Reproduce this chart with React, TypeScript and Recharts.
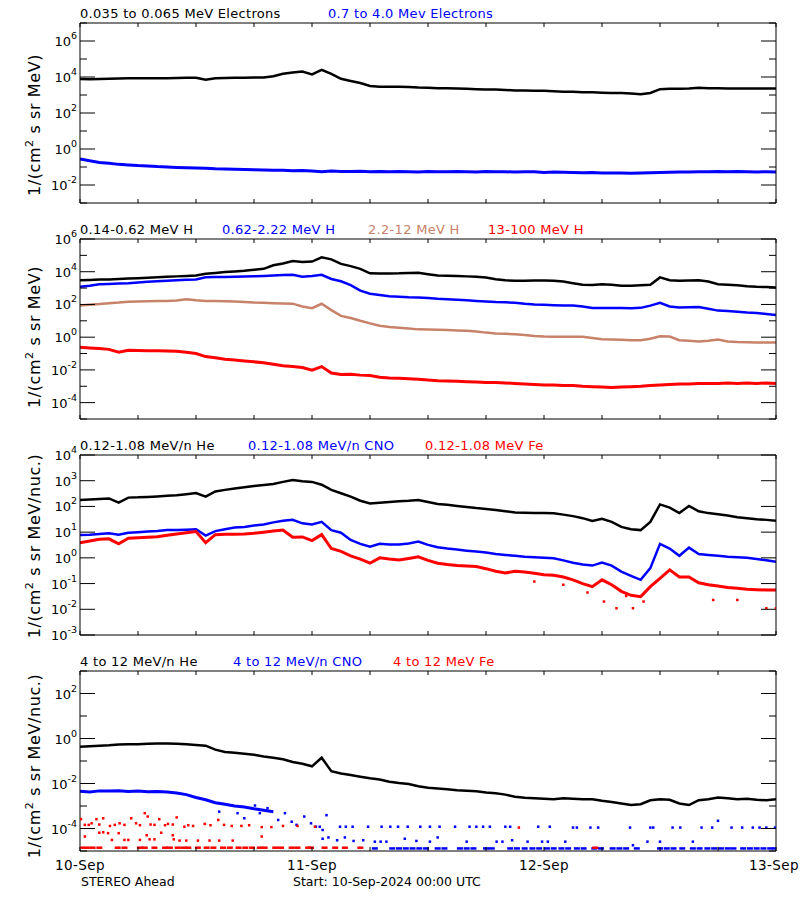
import React from 'react';
import { ComposedChart, Line, Scatter, XAxis, YAxis } from 'recharts';

// time axis: hours since 10-Sep-2024 00:00 UTC
const HOURS = Array.from({ length: 73 }, (_, i) => i);
const X_TICKS = [0, 6, 12, 18, 24, 30, 36, 42, 48, 54, 60, 66, 72];
const DATE_LABELS: Record<number, string> = { 0: '10-Sep', 24: '11-Sep', 48: '12-Sep', 72: '13-Sep' };

// panel 1 - electrons
const ELEC_LO = [
  7.8e3, 7.5e3, 7.8e3, 8e3, 8.2e3, 8.5e3, 8.5e3, 8.6e3, 8.5e3, 8.6e3,
  8.8e3, 9e3, 9e3, 7e3, 8.5e3, 8.8e3, 9e3, 9.2e3, 9.3e3, 9.5e3,
  1.1e4, 1.5e4, 1.8e4, 2.0e4, 1.4e4, 2.5e4, 1.5e4, 8e3, 6e3, 4.6e3,
  3.2e3, 2.9e3, 2.9e3, 2.9e3, 2.8e3, 2.6e3, 2.5e3, 2.4e3, 2.4e3, 2.3e3,
  2.2e3, 2.1e3, 2e3, 2e3, 1.9e3, 1.8e3, 1.8e3, 1.7e3, 1.7e3, 1.6e3,
  1.5e3, 1.5e3, 1.4e3, 1.4e3, 1.35e3, 1.3e3, 1.3e3, 1.2e3, 1.1e3, 1.3e3,
  2.1e3, 2.2e3, 2.2e3, 2.3e3, 2.5e3, 2.4e3, 2.4e3, 2.3e3, 2.3e3, 2.3e3,
  2.3e3, 2.3e3, 2.3e3,
];
const ELEC_HI = [
  0.28, 0.22, 0.18, 0.16, 0.14, 0.13, 0.12, 0.115, 0.105, 0.1,
  0.095, 0.092, 0.088, 0.085, 0.08, 0.078, 0.076, 0.072, 0.07, 0.068,
  0.066, 0.065, 0.062, 0.064, 0.06, 0.055, 0.06, 0.057, 0.056, 0.058,
  0.055, 0.057, 0.054, 0.056, 0.055, 0.053, 0.056, 0.055, 0.054, 0.057,
  0.055, 0.053, 0.056, 0.054, 0.055, 0.052, 0.055, 0.054, 0.05, 0.052,
  0.051, 0.05, 0.048, 0.049, 0.047, 0.046, 0.047, 0.045, 0.046, 0.048,
  0.05, 0.051, 0.052, 0.053, 0.054, 0.055, 0.056, 0.055, 0.057, 0.054,
  0.052, 0.055, 0.053,
];

// panel 2 - protons
const H_LO = [
  3e3, 3.1e3, 3.3e3, 3.4e3, 3.6e3, 3.8e3, 4e3, 4.3e3, 4.6e3, 4.9e3,
  5.2e3, 5.5e3, 5.8e3, 7.5e3, 8.5e3, 9.5e3, 1.05e4, 1.15e4, 1.3e4, 1.5e4,
  2.5e4, 3.2e4, 4.5e4, 4e4, 4.2e4, 7.6e4, 5.7e4, 3e4, 2.2e4, 1.5e4,
  8e3, 7.8e3, 7.8e3, 8e3, 8.5e3, 8.7e3, 7e3, 5.8e3, 5.6e3, 5.5e3,
  5.2e3, 5e3, 4.5e3, 3.5e3, 3e3, 2.8e3, 2.8e3, 2.9e3, 2.9e3, 2.8e3,
  2.5e3, 2e3, 1.6e3, 1.55e3, 1.7e3, 1.6e3, 1.4e3, 1.4e3, 1.5e3, 1.6e3,
  4.5e3, 3e3, 2.8e3, 2.9e3, 3e3, 2.5e3, 1.7e3, 1.6e3, 1.5e3, 1.3e3,
  1.2e3, 1.15e3, 1.08e3,
];
const H_MID = [
  1.2e3, 1.4e3, 1.7e3, 1.8e3, 1.9e3, 2e3, 2.2e3, 2.4e3, 2.6e3, 2.8e3,
  3e3, 3.2e3, 3.4e3, 4.6e3, 4.7e3, 4.8e3, 5e3, 5.1e3, 5.3e3, 5.5e3,
  5.8e3, 6.3e3, 6.6e3, 5e3, 5.5e3, 6.5e3, 3.6e3, 2.6e3, 1.5e3, 700,
  450, 380, 320, 300, 280, 270, 250, 220, 205, 195,
  180, 165, 150, 140, 135, 125, 110, 100, 95, 90,
  87, 85, 75, 60, 60, 60, 60, 59, 62, 85,
  125, 75, 65, 68, 70, 55, 42, 40, 36, 32,
  30, 26, 23,
];
const H_HIGH = [
  85, 95, 105, 120, 130, 148, 150, 155, 160, 165,
  175, 205, 180, 165, 160, 155, 150, 140, 130, 125,
  120, 115, 112, 75, 59, 110, 45, 20, 15, 10,
  7, 5, 4.2, 3.8, 3.4, 3, 2.9, 2.8, 2.7, 2.6,
  2.5, 2.2, 1.9, 1.7, 1.6, 1.5, 1.35, 1.2, 1.1, 1.07,
  1.07, 1.07, 1.05, 0.9, 0.75, 0.72, 0.7, 0.66, 0.64, 0.8,
  1.15, 1.1, 0.65, 0.6, 0.55, 0.6, 0.72, 0.55, 0.5, 0.49,
  0.48, 0.48, 0.47,
];
const H_TOP = [
  0.24, 0.22, 0.2, 0.18, 0.12, 0.16, 0.155, 0.15, 0.15, 0.145,
  0.14, 0.12, 0.1, 0.065, 0.055, 0.045, 0.04, 0.035, 0.031, 0.027,
  0.022, 0.018, 0.016, 0.014, 0.0095, 0.016, 0.0065, 0.0052, 0.0055, 0.0048,
  0.0045, 0.0036, 0.0032, 0.0031, 0.0029, 0.0027, 0.0024, 0.0022, 0.0021, 0.002,
  0.0019, 0.0018, 0.0017, 0.0017, 0.0016, 0.0015, 0.0014, 0.0013, 0.0012, 0.0012,
  0.0011, 0.0011, 0.001, 0.00095, 0.0009, 0.00085, 0.0009, 0.00095, 0.001, 0.0011,
  0.0012, 0.0013, 0.0014, 0.0014, 0.0015, 0.0015, 0.0015, 0.0016, 0.0015, 0.0016,
  0.0015, 0.0016, 0.0015,
];

// panel 3 - low energy heavy ions
const HE_LO = [
  178, 185, 195, 205, 140, 220, 225, 235, 245, 260,
  275, 300, 330, 240, 380, 440, 500, 560, 620, 680,
  740, 900, 1070, 950, 900, 700, 440, 325, 240, 167,
  130, 140, 150, 160, 165, 178, 150, 125, 115, 105,
  95, 86, 80, 72, 65, 58, 57, 56, 55, 54,
  48, 42, 35, 27, 33, 25, 16, 13, 12, 25,
  120, 90, 55, 105, 65, 55, 50, 44, 38, 35,
  32, 30, 28,
];
const CNO_LO = [
  7.8, 8, 8.5, 9, 8, 9.5, 10, 10.5, 11, 12,
  12, 12.5, 13, 7.3, 11, 13, 15, 16, 18, 20,
  24, 28, 30, 22, 20, 25, 12, 9.5, 5, 3.5,
  2.7, 3.5, 3.3, 3.3, 3.6, 4.3, 3.2, 2.6, 2.3, 2.1,
  1.9, 1.75, 1.6, 1.4, 1.3, 1.2, 1.1, 1.05, 1.0, 0.96,
  0.8, 0.65, 0.55, 0.5, 0.65, 0.5, 0.29, 0.2, 0.14, 0.4,
  3.5, 2.3, 1.2, 2.5, 1.4, 1.3, 1.2, 1.1, 1.05, 1.0,
  0.9, 0.8, 0.71,
];
const FE_LO = [
  3.9, 4.5, 5.3, 5.5, 3.5, 5.8, 6, 6.3, 6.6, 7.5,
  8.5, 9.5, 10.5, 3.9, 8, 8.3, 8.3, 8.5, 9, 10,
  11, 12, 6.3, 6.5, 4.7, 8, 2.3, 1.8, 1.2, 0.9,
  0.62, 1, 0.9, 0.83, 0.95, 1.1, 0.8, 0.62, 0.55, 0.5,
  0.48, 0.46, 0.38, 0.3, 0.26, 0.3, 0.28, 0.25, 0.22, 0.21,
  0.18, 0.14, 0.1, 0.076, 0.14, 0.09, 0.05, 0.035, 0.031, 0.076,
  0.16, 0.34, 0.18, 0.18, 0.107, 0.09, 0.08, 0.07, 0.066, 0.06,
  0.058, 0.056, 0.056,
];
const FE_LO_STRAY: [number, number][] = [
  [47, 0.12], [50, 0.09], [52.5, 0.045], [54.2, 0.02], [55.5, 0.011], [56.5, 0.033],
  [57.2, 0.011], [58.3, 0.02], [65.5, 0.023], [68, 0.023], [71, 0.011], [72, 0.011],
];

// panel 4 - 4 to 12 MeV/n
const HE_HI = [
  0.43, 0.45, 0.48, 0.5, 0.54, 0.55, 0.56, 0.58, 0.6, 0.6,
  0.58, 0.55, 0.52, 0.48, 0.32, 0.25, 0.23, 0.21, 0.19, 0.16,
  0.14, 0.12, 0.09, 0.075, 0.058, 0.14, 0.035, 0.028, 0.024, 0.02,
  0.017, 0.015, 0.012, 0.0105, 0.0094, 0.0075, 0.0065, 0.006, 0.0055, 0.005,
  0.0048, 0.0045, 0.004, 0.0037, 0.0032, 0.0026, 0.0023, 0.0022, 0.0021, 0.002,
  0.0022, 0.0021, 0.002, 0.002, 0.0017, 0.0015, 0.0013, 0.0011, 0.0012, 0.0018,
  0.002, 0.0019, 0.0013, 0.0011, 0.0018, 0.002, 0.0024, 0.0022, 0.002, 0.0021,
  0.0019, 0.0018, 0.002,
];
const CNO_HI = [
  0.0045, 0.0042, 0.0047, 0.0046, 0.0048, 0.0044, 0.0046, 0.0043, 0.0044, 0.0042,
  0.0038, 0.0032, 0.0024, 0.0019, 0.0014, 0.0012, 0.001, 0.0009, 0.00075, 0.00065,
  0.00055,
];
const CNO_HI_SPARSE: [number, number][] = [
  [14.4, 5.6e-4], [16.3, 4.8e-4], [17, 2.85e-4], [18.1, 1.05e-3], [18.6, 4.8e-4], [19.4, 8e-4],
  [20.5, 2.4e-4], [21.2, 4.8e-4], [21.9, 2e-4], [22.4, 1.45e-4], [23.2, 3.4e-4], [23.9, 1.7e-4],
  [24.4, 1.2e-4], [25.1, 8.6e-5], [25.5, 3.9e-4], [24.8, 1.2e-4], [26.9, 1.2e-4], [27.5, 1.2e-4],
  [28.2, 1.2e-4], [29.8, 1.2e-4], [31.2, 1.2e-4], [32.1, 1.2e-4], [32.9, 1.2e-4], [33.9, 1.2e-4],
  [35.2, 1.2e-4], [36.2, 1.2e-4], [37.2, 1.2e-4], [38.8, 1.2e-4], [40.3, 1.2e-4], [41, 1.2e-4],
  [41.7, 1.2e-4], [42.4, 1.2e-4], [44, 1.2e-4], [44.5, 1.2e-4], [47.4, 1.2e-4], [48.6, 1.2e-4],
  [51, 1.1e-4], [51.4, 1.1e-4], [52.8, 1.1e-4], [53.6, 1.1e-4], [56.9, 1.1e-4], [59, 1.1e-4],
  [59.3, 1.1e-4], [61.3, 1.1e-4], [62.1, 1.1e-4], [64.3, 1.1e-4], [65.4, 1.1e-4], [66, 2.2e-4],
  [67.4, 1.1e-4], [68.5, 1.1e-4], [69.6, 1.1e-4], [70.3, 1.1e-4], [71, 1.1e-4], [71.9, 1.1e-4],
  [25.1, 3.5e-5], [25.7, 4e-5], [26.6, 3e-5], [27.4, 4e-5], [28.3, 2.8e-5], [29.3, 3e-5],
  [30.5, 2.6e-5], [31.1, 2.6e-5], [31.7, 2.6e-5], [33.6, 3.5e-5], [34.8, 2.8e-5], [36.2, 2.6e-5],
  [37, 4e-5], [40, 2.6e-5], [43.1, 2.6e-5], [43.7, 2.6e-5], [44.7, 3e-5], [46.3, 2.6e-5],
  [47.8, 2.6e-5], [48.4, 2.6e-5], [50.2, 2.6e-5], [57.2, 1.8e-5], [58.7, 2.6e-5], [60, 2.6e-5],
  [63.4, 2.6e-5],
];
const CNO_HI_FLOOR = 1.3e-5;
const CNO_HI_FLOOR_HOURS = [
  30.5, 32.3, 33.0, 33.7, 34.4, 35.1, 35.8, 37.0, 37.7, 39.3, 40.0, 40.7, 42.0, 42.6,
  44.5, 45.2, 46.0, 46.8, 47.5, 48.3, 49.0, 49.8, 50.5, 51.4, 52.1, 53.2, 53.9, 55.1,
  55.8, 56.5, 57.6, 60.0, 60.7, 61.4, 62.3, 63.4, 64.1, 64.9, 65.6, 66.3, 67.0, 67.6,
  68.6, 69.3, 70.0, 70.7, 71.4, 71.9,
];
const FE_HI_SPARSE: [number, number][] = [
  [0.1, 2.6e-4], [0.5, 1.45e-4], [0.9, 1.45e-4], [1.2, 1.7e-4], [1.7, 2.6e-4], [2.0, 1.5e-4],
  [2.4, 2.85e-4], [3.1, 1.3e-4], [3.6, 1.45e-4], [4.1, 1.7e-4], [4.6, 1.45e-4], [5.3, 2.85e-4],
  [5.8, 1.7e-4], [6.2, 1.4e-4], [6.7, 4.8e-4], [7.0, 3.4e-4], [7.3, 1.5e-4], [7.7, 1.45e-4],
  [8.2, 2.6e-4], [8.8, 1.4e-4], [9.1, 1.6e-4], [9.6, 1.5e-4], [10.0, 3.1e-4], [10.8, 1.2e-4],
  [11.2, 1.4e-4], [11.7, 1.3e-4], [12.9, 1.6e-4], [13.5, 1.4e-4], [14.3, 2.4e-4], [14.9, 1.45e-4],
  [15.7, 1.3e-4], [16.7, 1.3e-4], [17.5, 1.4e-4], [18.8, 1.15e-4], [19.8, 1.15e-4], [21, 1.3e-4],
  [22.5, 1.3e-4], [24.3, 1.2e-4], [45.4, 1.1e-4],
  [0.5, 4.4e-5], [2.0, 6.5e-5], [2.4, 6.8e-5], [2.9, 6.2e-5], [3.3, 3.1e-5], [4.0, 6.2e-5],
  [4.6, 3.1e-5], [5.0, 3.1e-5], [6.2, 3.1e-5], [6.9, 5e-5], [7.2, 3.3e-5], [7.7, 3.3e-5],
  [8.4, 6.5e-5], [9.6, 5e-5], [9.7, 3.3e-5], [10.3, 2.9e-5], [11.0, 2.9e-5], [12.2, 2.9e-5],
  [13.4, 2.9e-5], [14.4, 2.9e-5], [15.8, 2.9e-5], [18.8, 4.4e-5],
];
const FE_HI_FLOOR = 1.4e-5;
const FE_HI_FLOOR_HOURS = [
  0.1, 0.7, 1.3, 2.0, 3.9, 4.6, 6.2, 6.7, 7.7, 8.8, 9.3, 10.1, 10.7, 11.2, 12.2, 13.1,
  13.8, 14.8, 15.5, 16.4, 17.1, 17.8, 18.6, 19.1, 20.2, 20.8, 21.9, 22.5, 23.6, 23.9,
  25.3, 26.4, 27.4, 29.0, 53.3,
];

const BLACK = '#000000';
const BLUE = '#0000ff';
const RED = '#ff0000';
const SIENNA = '#c8826a';
const FONT = '"DejaVu Sans", sans-serif';

type Pt = { h: number; v: number };
type Series = { kind: 'line' | 'dots' | 'dash'; data: Pt[]; color: string; w?: number };

const hourly = (vals: number[]): Pt[] => vals.map((v, i) => ({ h: HOURS[i], v }));
const pairs = (pts: [number, number][]): Pt[] => pts.map(([h, v]) => ({ h, v }));
const level = (hs: number[], v: number): Pt[] => hs.map((h) => ({ h, v }));

const PLOT_H = 180;
const LAST_HOUR = X_TICKS[X_TICKS.length - 1];

function Panel({ top, lo, hi, majorEvery, series, dates }: {
  top: number; lo: number; hi: number; majorEvery: number; series: Series[]; dates?: boolean;
}) {
  const yTicks: number[] = [];
  for (let e = lo; e <= hi; e++) yTicks.push(Math.pow(10, e));
  const isMajor = (e: number) => e % majorEvery === 0;
  const bottomH = dates ? 30 : 10;

  const leftTick = (p: any) => {
    const e = Math.round(Math.log10(p.payload.value));
    const major = isMajor(e);
    return (
      <g>
        <line x1={p.x} x2={p.x + (major ? 15 : 7)} y1={p.y} y2={p.y} stroke={BLACK} />
        {major && (
          <text x={p.x - 3} y={p.y + 5} textAnchor="end" fontSize={13} fontFamily={FONT} fill={BLACK}>
            10<tspan dy={-7} fontSize={9.5}>{e}</tspan>
          </text>
        )}
      </g>
    );
  };
  const rightTick = (p: any) => {
    const e = Math.round(Math.log10(p.payload.value));
    return <line x1={p.x} x2={p.x - (isMajor(e) ? 15 : 7)} y1={p.y} y2={p.y} stroke={BLACK} />;
  };
  const bottomTick = (p: any) => {
    const label = dates ? DATE_LABELS[p.payload.value] : undefined;
    // the last date sits on the right frame; keep it inside the page
    const last = p.payload.value === LAST_HOUR;
    return (
      <g>
        <line x1={p.x} x2={p.x} y1={p.y} y2={p.y - 4} stroke={BLACK} />
        {label && (
          <text x={last ? p.x + 23 : p.x} y={p.y + 19} textAnchor={last ? 'end' : 'middle'} fontSize={13.5}
            fontFamily={FONT} fill={BLACK} style={{ letterSpacing: '0.4px' }}>
            {label}
          </text>
        )}
      </g>
    );
  };
  const topTick = (p: any) => <line x1={p.x} x2={p.x} y1={p.y} y2={p.y + 4} stroke={BLACK} />;

  return (
    <div style={{ position: 'absolute', left: 0, top: top - 10 }}>
      <ComposedChart width={800} height={10 + PLOT_H + bottomH} margin={{ top: 0, right: 0, bottom: 0, left: 0 }}>
        <XAxis xAxisId="b" dataKey="h" type="number" domain={[0, 72]} ticks={X_TICKS} interval={0}
          allowDataOverflow height={bottomH} tickSize={0} tickMargin={0} tickLine={false}
          axisLine={{ stroke: BLACK }} tick={bottomTick} />
        <XAxis xAxisId="t" orientation="top" dataKey="h" type="number" domain={[0, 72]} ticks={X_TICKS}
          interval={0} allowDataOverflow height={10} tickSize={0} tickMargin={0} tickLine={false}
          axisLine={{ stroke: BLACK }} tick={topTick} />
        <YAxis yAxisId="l" type="number" scale="log" domain={[yTicks[0], yTicks[yTicks.length - 1]]}
          ticks={yTicks} interval={0} allowDataOverflow width={80} tickSize={0} tickMargin={0}
          tickLine={false} axisLine={{ stroke: BLACK }} tick={leftTick} />
        <YAxis yAxisId="r" orientation="right" type="number" scale="log"
          domain={[yTicks[0], yTicks[yTicks.length - 1]]} ticks={yTicks} interval={0} allowDataOverflow
          width={24} tickSize={0} tickMargin={0} tickLine={false} axisLine={{ stroke: BLACK }} tick={rightTick} />
        {series.map((s, i) =>
          s.kind === 'line' ? (
            <Line key={i} xAxisId="b" yAxisId="l" data={s.data} dataKey="v" type="linear" stroke={s.color}
              strokeWidth={s.w ?? 2} dot={false} activeDot={false} isAnimationActive={false} />
          ) : (
            <Scatter key={i} xAxisId="b" yAxisId="l" data={s.data} dataKey="v" fill={s.color}
              isAnimationActive={false}
              shape={(p: any) => (
                <rect x={p.cx - (s.kind === 'dash' ? 3 : 1.25)} y={p.cy - 1.25} width={s.kind === 'dash' ? 6 : 2.5}
                  height={2.5} fill={s.color} />
              )} />
          )
        )}
      </ComposedChart>
    </div>
  );
}

const Title = ({ y, parts }: { y: number; parts: [number, string, string][] }) => (
  <>
    {parts.map(([x, txt, c]) => (
      <text key={txt} x={x} y={y} fill={c} fontSize={13} fontFamily={FONT} style={{ letterSpacing: '0.3px' }}>
        {txt}
      </text>
    ))}
  </>
);

const YTitle = ({ cy, unit }: { cy: number; unit: string }) => (
  <text transform={`translate(40,${cy}) rotate(-90)`} textAnchor="middle" fontSize={16} fontFamily={FONT}
    fill={BLACK} style={{ letterSpacing: '0.6px' }}>
    1/(cm<tspan dy={-7} fontSize={11}>2</tspan><tspan dy={7}> s sr {unit})</tspan>
  </text>
);

export default function App() {
  return (
    <div style={{ position: 'absolute', left: 0, top: 0, width: 800, height: 900, background: '#fff', fontFamily: FONT }}>
      <svg width={800} height={900} style={{ position: 'absolute', left: 0, top: 0 }}>
        <Title y={18} parts={[[80, '0.035 to 0.065 MeV Electrons', BLACK], [328, '0.7 to 4.0 Mev Electrons', BLUE]]} />
        <Title y={234} parts={[[80, '0.14-0.62 MeV H', BLACK], [222, '0.62-2.22 MeV H', BLUE],
          [368, '2.2-12 MeV H', SIENNA], [488, '13-100 MeV H', RED]]} />
        <Title y={450} parts={[[80, '0.12-1.08 MeV/n He', BLACK], [248, '0.12-1.08 MeV/n CNO', BLUE],
          [425, '0.12-1.08 MeV Fe', RED]]} />
        <Title y={666} parts={[[80, '4 to 12 MeV/n He', BLACK], [233, '4 to 12 MeV/n CNO', BLUE],
          [393, '4 to 12 MeV Fe', RED]]} />
        <YTitle cy={125} unit="MeV" />
        <YTitle cy={337} unit="MeV" />
        <YTitle cy={546} unit="MeV/nuc." />
        <YTitle cy={766} unit="MeV/nuc." />
        <text x={81} y={886} fontSize={12.5} fontFamily={FONT} fill={BLACK}>STEREO Ahead</text>
        <text x={293} y={886} fontSize={12.5} fontFamily={FONT} fill={BLACK}>Start: 10-Sep-2024 00:00 UTC</text>
      </svg>
      <Panel top={23} lo={-3} hi={7} majorEvery={2} series={[
        { kind: 'line', data: hourly(ELEC_LO), color: BLACK, w: 2.5 },
        { kind: 'line', data: hourly(ELEC_HI), color: BLUE, w: 3 },
      ]} />
      <Panel top={239} lo={-5} hi={6} majorEvery={2} series={[
        { kind: 'line', data: hourly(H_LO), color: BLACK, w: 2.5 },
        { kind: 'line', data: hourly(H_MID), color: BLUE, w: 2.5 },
        { kind: 'line', data: hourly(H_HIGH), color: SIENNA, w: 2.5 },
        { kind: 'line', data: hourly(H_TOP), color: RED, w: 3 },
      ]} />
      <Panel top={455} lo={-3} hi={4} majorEvery={1} series={[
        { kind: 'line', data: hourly(HE_LO), color: BLACK, w: 2.5 },
        { kind: 'line', data: hourly(CNO_LO), color: BLUE, w: 2.5 },
        { kind: 'line', data: hourly(FE_LO), color: RED, w: 3 },
        { kind: 'dots', data: pairs(FE_LO_STRAY), color: RED },
      ]} />
      <Panel top={671} lo={-5} hi={3} majorEvery={2} dates series={[
        { kind: 'line', data: hourly(HE_HI), color: BLACK, w: 2.5 },
        { kind: 'line', data: hourly(CNO_HI), color: BLUE, w: 3 },
        { kind: 'dots', data: pairs(CNO_HI_SPARSE), color: BLUE },
        { kind: 'dash', data: level(CNO_HI_FLOOR_HOURS, CNO_HI_FLOOR), color: BLUE },
        { kind: 'dots', data: pairs(FE_HI_SPARSE), color: RED },
        { kind: 'dash', data: level(FE_HI_FLOOR_HOURS, FE_HI_FLOOR), color: RED },
      ]} />
    </div>
  );
}
